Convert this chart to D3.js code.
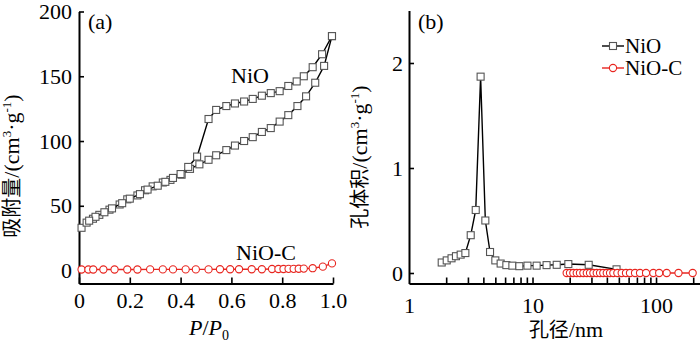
<!DOCTYPE html>
<html>
<head>
<meta charset="utf-8">
<script src="https://cdn.jsdelivr.net/npm/d3@7"></script>
<style>
  body { margin: 0; background: #fff; }
  svg { display: block; }
  text { font-family: "Liberation Serif", "Noto Sans CJK SC", serif; fill: #000; }
  .cjk { font-family: "Liberation Serif", "Noto Sans CJK SC", serif; }
  .axis path, .axis line { stroke: #000; }
  .axis path { stroke-width: 2; }
  .axis line { stroke-width: 1.6; }
  .axis text { font-size: 22px; }
</style>
</head>
<body>
<svg id="chart" width="700" height="345"></svg>
<script>
// (a) N2 isotherm, NiO adsorption branch
const adsP = [0.01, 0.03, 0.055, 0.08, 0.12, 0.16, 0.19, 0.23, 0.26, 0.29, 0.33, 0.36, 0.404, 0.437, 0.474,
              0.51, 0.54, 0.58, 0.614, 0.65, 0.684, 0.72, 0.755, 0.79, 0.824, 0.86, 0.894, 0.93, 0.965, 0.996];
const adsV = [33, 37, 40, 43, 47, 51, 55, 58, 62, 65, 68, 70, 74, 78.5, 82,
              85.5, 89, 93, 96.5, 100, 103, 107, 110, 115, 120, 127, 134.5, 145, 158, 181];
// desorption branch
const desP = [0.996, 0.957, 0.92, 0.885, 0.857, 0.824, 0.79, 0.755, 0.72, 0.684, 0.65, 0.614, 0.58, 0.54, 0.51,
              0.465, 0.43, 0.40, 0.37, 0.34, 0.31, 0.27, 0.24, 0.20, 0.17, 0.13, 0.10, 0.065, 0.04];
const desV = [181, 167, 157, 150, 146, 142.5, 138.5, 137, 135, 132.5, 130.5, 129, 127, 124, 117,
              88, 80, 74.5, 71.5, 68.5, 65.5, 62.5, 59, 55.5, 52, 48, 45, 41.5, 38.5];
// NiO-C isotherm
const ncP = [0.01, 0.037, 0.056, 0.096, 0.14, 0.19, 0.23, 0.28, 0.33, 0.37, 0.42, 0.46, 0.51, 0.555, 0.595,
             0.63, 0.68, 0.72, 0.76, 0.785, 0.805, 0.825, 0.845, 0.865, 0.885, 0.92, 0.96, 0.996];
const ncV = [0.8, 0.8, 0.8, 0.8, 0.8, 0.8, 0.8, 0.9, 0.9, 0.9, 0.9, 0.9, 0.9, 1, 1,
             1, 1, 1, 1.2, 1.2, 1.2, 1.3, 1.3, 1.4, 1.5, 1.8, 3, 5.5];

// (b) pore size distribution
const psdD = [1.84, 2.02, 2.21, 2.40, 2.62, 2.86, 3.16, 3.47, 3.80, 4.15, 4.53, 5.0, 5.52, 6.14, 6.87,
              7.82, 9.1, 10.8, 13.0, 15.7, 19.5, 28.5, 47.9];
const psdV = [0.10, 0.12, 0.14, 0.16, 0.175, 0.19, 0.36, 0.60, 1.87, 0.50, 0.20, 0.12, 0.09, 0.075, 0.07,
              0.065, 0.07, 0.07, 0.075, 0.078, 0.085, 0.078, 0.035];
const psdCD = [18.9, 20.1, 21.4, 22.8, 24.2, 25.8, 27.5, 29.2, 31.1, 33.1, 35.2, 37.4, 39.9, 42.4, 45.1,
               48.6, 52.7, 57.1, 61.5, 67.6, 74.2, 83.0, 95.1, 106, 122, 152, 198];
const psdCV = psdCD.map(() => 0.0);

const ticksA = [0, 0.2, 0.4, 0.6, 0.8, 1.0];
const ticksAY = [0, 50, 100, 150, 200];
const ticksB = [2, 3, 4, 5, 6, 7, 8, 9, 10, 20, 30, 40, 50, 60, 70, 80, 90, 100, 200];
const ticksBLabels = [1, 10, 100];
const ticksBY = [0, 1, 2];

const svg = d3.select("#chart");
const black = "#000", grey = "#555", red = "#e8251f";

// ---------- panel (a) ----------
const xa = d3.scaleLinear().domain([0, 1]).range([79, 333]);
const ya = d3.scaleLinear().domain([-10, 200]).range([283.5, 11.5]);

svg.append("g").attr("class", "axis")
   .attr("transform", "translate(0,283.5)")
   .call(d3.axisBottom(xa).tickValues(ticksA).tickSizeInner(-6).tickSizeOuter(0).tickPadding(9)
           .tickFormat(d => d === 0 ? "0" : d3.format(".1f")(d)));
svg.append("g").attr("class", "axis")
   .attr("transform", "translate(79,0)")
   .call(d3.axisLeft(ya).tickValues(ticksAY).tickSizeInner(-5).tickSizeOuter(0).tickPadding(7));

function series(xs, ys, xv, yv, colour, shape) {
  const pts = xv.map((v, i) => [xs(v), ys(yv[i])]);
  svg.append("path").attr("d", d3.line()(pts))
     .attr("fill", "none").attr("stroke", colour).attr("stroke-width", 1.4);
  if (shape === "sq") {
    svg.append("g").selectAll("rect").data(pts).enter().append("rect")
       .attr("x", d => d[0] - 3.5).attr("y", d => d[1] - 3.5)
       .attr("width", 7).attr("height", 7)
       .attr("fill", "#fff").attr("stroke", grey).attr("stroke-width", 1.1);
  } else {
    svg.append("g").selectAll("circle").data(pts).enter().append("circle")
       .attr("cx", d => d[0]).attr("cy", d => d[1]).attr("r", 3.6)
       .attr("fill", "#fff").attr("stroke", red).attr("stroke-width", 1.1);
  }
}

series(xa, ya, adsP, adsV, black, "sq");
series(xa, ya, desP, desV, black, "sq");
series(xa, ya, ncP, ncV, red, "ci");

svg.append("text").attr("x", 88).attr("y", 29).style("font-size", "22px").text("(a)");
svg.append("text").attr("x", 231).attr("y", 83).style("font-size", "22px").text("NiO");
svg.append("text").attr("x", 236).attr("y", 260).style("font-size", "22px").text("NiO-C");

// x title P/P0
const ta = svg.append("text").attr("x", 209).attr("y", 335).attr("text-anchor", "middle").style("font-size", "22px");
ta.append("tspan").style("font-style", "italic").text("P");
ta.append("tspan").text("/");
ta.append("tspan").style("font-style", "italic").text("P");
ta.append("tspan").attr("dy", 5).style("font-size", "14px").text("0");

function yTitle(x, y, cjk) {
  const t = svg.append("text").attr("transform", `translate(${x},${y}) rotate(-90)`)
     .attr("text-anchor", "middle").style("font-size", "22px");
  t.append("tspan").attr("class", "cjk").style("font-size", "20px").text(cjk);
  t.append("tspan").text("/(cm");
  t.append("tspan").attr("dy", -8).style("font-size", "13px").text("3");
  t.append("tspan").attr("dy", 8).text("·g");
  t.append("tspan").attr("dy", -8).style("font-size", "13px").text("-1");
  t.append("tspan").attr("dy", 8).text(")");
}
yTitle(19, 166, "吸附量");

// ---------- panel (b) ----------
const xb = d3.scaleLog().domain([1, 227]).range([409, 700]);
const yb = d3.scaleLinear().domain([-0.1, 2.5]).range([283.5, 10.5]);

svg.append("g").attr("class", "axis")
   .attr("transform", "translate(0,283.5)")
   .call(d3.axisBottom(xb).tickValues(ticksB).tickSizeInner(-6).tickSizeOuter(0).tickFormat(() => ""));
svg.append("g").attr("class", "axis")
   .attr("transform", "translate(0,283.5)")
   .call(d3.axisBottom(xb).tickValues(ticksBLabels).tickSizeInner(0).tickSizeOuter(0).tickPadding(14)
           .tickFormat(d3.format("d")))
   .select(".domain").remove();
svg.append("g").attr("class", "axis")
   .attr("transform", "translate(409,0)")
   .call(d3.axisLeft(yb).tickValues(ticksBY).tickSizeInner(-5).tickSizeOuter(0).tickPadding(6)
           .tickFormat(d3.format("d")));

series(xb, yb, psdD, psdV, black, "sq");
series(xb, yb, psdCD, psdCV, red, "ci");

svg.append("text").attr("x", 418).attr("y", 29).style("font-size", "22px").text("(b)");
svg.append("text").attr("x", 566).attr("y", 337).attr("text-anchor", "middle").style("font-size", "22px")
   .html('<tspan class="cjk" style="font-size:20px">孔径</tspan>/nm');
yTitle(367, 157, "孔体积");

// legend
const legend = [["NiO", black, "sq", 46], ["NiO-C", red, "ci", 68]];
legend.forEach(([name, c, s, y]) => {
  svg.append("line").attr("x1", 602).attr("x2", 624).attr("y1", y).attr("y2", y)
     .attr("stroke", c).attr("stroke-width", 1.4);
  if (s === "sq") {
    svg.append("rect").attr("x", 609.5).attr("y", y - 3.5).attr("width", 7).attr("height", 7)
       .attr("fill", "#fff").attr("stroke", grey).attr("stroke-width", 1.1);
  } else {
    svg.append("circle").attr("cx", 613).attr("cy", y).attr("r", 3.6)
       .attr("fill", "#fff").attr("stroke", red).attr("stroke-width", 1.1);
  }
  svg.append("text").attr("x", 625).attr("y", y + 7).style("font-size", "21px").text(name);
});
</script>
</body>
</html>
